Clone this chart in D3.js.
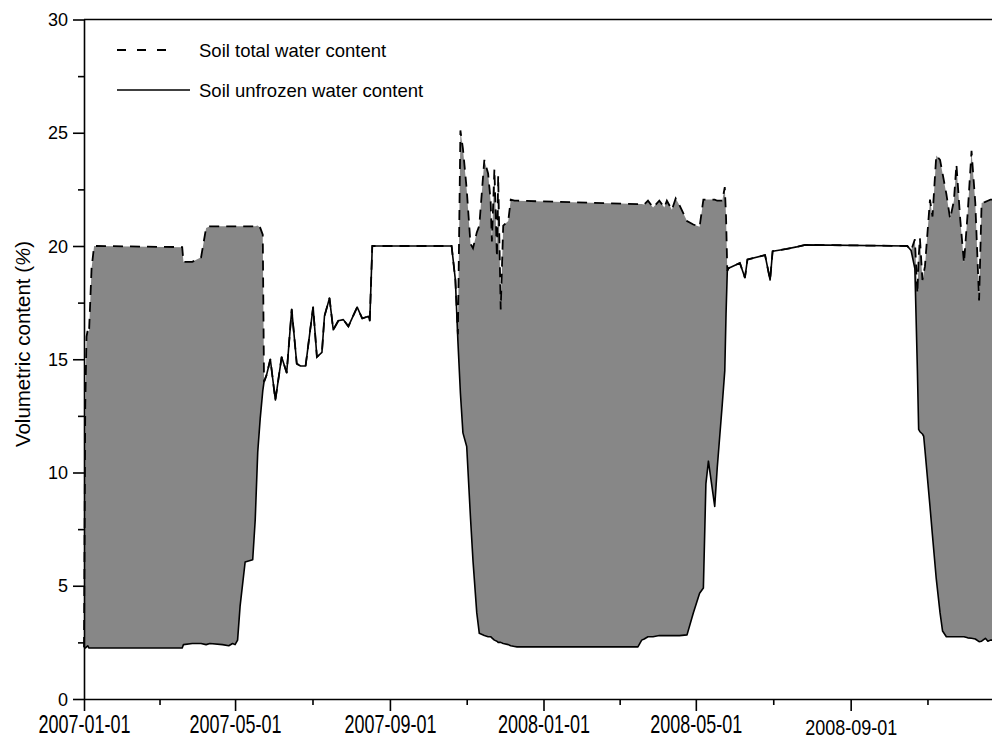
<!DOCTYPE html>
<html>
<head>
<meta charset="utf-8">
<script src="https://cdn.jsdelivr.net/npm/d3@7"></script>
<style>
	html, body { margin: 0; padding: 0; background: #fff; }
	svg { display: block; font-family: "Liberation Sans", Arial, sans-serif; }
</style>
</head>
<body>
<div id="chart"></div>
<script>
"use strict";

// sampling dates
const sampleDates = [
	"2007-01-01", "2007-01-02", "2007-01-03", "2007-01-04", "2007-01-05", "2007-01-07", "2007-01-09", "2007-01-11",
	"2007-03-20", "2007-03-21", "2007-03-28", "2007-04-04", "2007-04-08", "2007-04-11", "2007-04-21", "2007-04-26",
	"2007-04-29", "2007-05-01", "2007-05-03", "2007-05-05", "2007-05-09", "2007-05-15", "2007-05-17", "2007-05-19",
	"2007-05-21", "2007-05-23", "2007-05-24", "2007-05-26", "2007-05-29",
	"2007-06-02", "2007-06-07", "2007-06-11", "2007-06-15", "2007-06-19", "2007-06-22", "2007-06-26", "2007-06-29",
	"2007-07-02", "2007-07-05", "2007-07-09", "2007-07-11", "2007-07-15", "2007-07-18", "2007-07-22", "2007-07-26",
	"2007-07-30", "2007-08-06", "2007-08-10", "2007-08-15", "2007-08-16", "2007-08-18", "2007-09-16", "2007-10-20",
	"2007-10-23", "2007-10-25", "2007-10-27", "2007-10-29", "2007-11-01", "2007-11-04", "2007-11-06", "2007-11-09",
	"2007-11-11", "2007-11-15", "2007-11-18", "2007-11-20", "2007-11-21", "2007-11-23", "2007-11-25", "2007-11-26",
	"2007-11-28", "2007-11-30", "2007-12-04", "2007-12-06", "2007-12-09", "2007-12-11",
	"2008-03-16", "2008-03-19", "2008-03-21", "2008-03-24", "2008-03-28", "2008-04-02", "2008-04-06", "2008-04-08",
	"2008-04-12", "2008-04-15", "2008-04-18", "2008-04-24", "2008-04-29", "2008-05-04", "2008-05-07", "2008-05-09",
	"2008-05-11", "2008-05-16", "2008-05-18", "2008-05-22", "2008-05-24", "2008-05-25", "2008-05-26",
	"2008-05-27", "2008-06-05", "2008-06-09", "2008-06-11", "2008-06-25", "2008-06-29", "2008-07-01", "2008-07-12",
	"2008-07-20", "2008-07-27", "2008-10-16",
	"2008-10-19", "2008-10-22", "2008-10-24", "2008-10-25", "2008-10-26", "2008-10-28", "2008-10-29", "2008-10-30",
	"2008-11-03", "2008-11-05", "2008-11-08", "2008-11-11", "2008-11-13", "2008-11-16", "2008-11-19", "2008-11-22",
	"2008-11-24", "2008-11-27", "2008-11-30", "2008-12-03", "2008-12-06", "2008-12-09", "2008-12-12", "2008-12-14",
	"2008-12-17", "2008-12-19", "2008-12-21", "2008-12-25"
];

// soil total water content (%)
const totalWater = [
	2.3, 13.0, 16.0, 16.3, 16.2, 19.0, 20.0, 20.0,
	19.95, 19.3, 19.3, 19.5, 20.8, 20.87, 20.87, 20.87,
	20.87, 20.87, 20.87, 20.87, 20.87, 20.87, 20.87, 20.9,
	20.8, 20.5, 14.0, 14.3, 15.0,
	13.2, 15.1, 14.4, 17.2, 14.8, 14.7, 14.7, 16.0,
	17.3, 15.1, 15.3, 16.9, 17.7, 16.3, 16.7, 16.75,
	16.45, 17.3, 16.8, 16.9, 16.7, 20.0, 20.0, 20.0,
	18.5, 16.1, 25.1, 24.3, 22.5, 20.1, 19.9, 20.6,
	20.9, 23.8, 23.2, 22.0, 20.2, 23.4, 19.5, 23.1,
	17.2, 20.9, 21.1, 22.05, 22.0, 22.0,
	21.85, 21.85, 21.83, 22.0, 21.7, 22.0, 21.7, 22.0,
	21.6, 22.1, 21.8, 21.1, 20.95, 20.85, 22.05, 22.05,
	22.05, 22.05, 22.0, 22.0, 22.6, 21.3, 18.9,
	19.02, 19.25, 18.6, 19.4, 19.6, 18.5, 19.77, 19.87,
	19.96, 20.05, 20.0,
	19.8, 20.3, 17.9, 19.5, 20.35, 18.5, 18.8, 19.1,
	22.05, 21.3, 24.0, 23.8, 23.2, 22.3, 21.2, 22.0,
	23.6, 21.2, 19.25, 21.5, 24.2, 21.9, 17.6, 21.9,
	21.95, 22.0, 22.05, 22.05
];

// soil unfrozen water content (%)
const unfrozenWater = [
	2.3, 2.25, 2.3, 2.35, 2.25, 2.25, 2.25, 2.25,
	2.25, 2.4, 2.45, 2.45, 2.4, 2.45, 2.4, 2.35,
	2.45, 2.4, 2.6, 4.1, 6.05, 6.15, 7.9, 10.9,
	12.4, 13.6, 14.0, 14.3, 15.0,
	13.2, 15.1, 14.4, 17.2, 14.8, 14.7, 14.7, 16.0,
	17.3, 15.1, 15.3, 16.9, 17.7, 16.3, 16.7, 16.75,
	16.45, 17.3, 16.8, 16.9, 16.7, 20.0, 20.0, 20.0,
	18.5, 15.8, 13.5, 11.75, 11.15, 8.0, 6.1, 3.8,
	2.9, 2.8, 2.75, 2.75, 2.7, 2.6, 2.55, 2.5,
	2.5, 2.45, 2.4, 2.35, 2.32, 2.3,
	2.3, 2.6, 2.65, 2.75, 2.75, 2.8, 2.8, 2.8,
	2.8, 2.8, 2.8, 2.83, 3.8, 4.67, 4.9, 9.5,
	10.5, 8.5, 10.2, 13.0, 14.5, 17.0, 18.9,
	19.02, 19.25, 18.6, 19.4, 19.6, 18.5, 19.77, 19.87,
	19.96, 20.05, 20.0,
	19.8, 19.0, 14.5, 11.9, 11.8, 11.7, 11.6, 11.0,
	8.5, 7.2, 5.3, 3.8, 3.0, 2.75, 2.75, 2.75,
	2.75, 2.75, 2.75, 2.7, 2.68, 2.65, 2.53, 2.55,
	2.68, 2.55, 2.6, 2.6
];

const yTicks = [0, 5, 10, 15, 20, 25, 30];
const xTicks = ["2007-01-01", "2007-05-01", "2007-09-01", "2008-01-01", "2008-05-01", "2008-09-01"];
const seriesNames = ["Soil total water content", "Soil unfrozen water content"];

let width = 992,
    height = 739;

let parseDate = d3.utcParse("%Y-%m-%d");

let rows = sampleDates.map((d, i) => ({
	date: parseDate(d),
	total: totalWater[i],
	unfrozen: unfrozenWater[i]
}));

let x = d3.scaleUtc()
    .domain([parseDate("2007-01-01"), parseDate("2008-12-31")])
    .range([84, 1003]);

let y = d3.scaleLinear()
    .domain([0, 30])
    .range([699, 19.5]);

let svg = d3.select("#chart").append("svg")
    .attr("width", width)
    .attr("height", height);

// grey band between the two curves
let band = d3.area()
    .x(d => x(d.date))
    .y0(d => y(d.unfrozen))
    .y1(d => y(d.total));

svg.append("path")
    .datum(rows)
    .attr("d", band)
    .style("fill", "#878787")
    .style("stroke", "none");

let lineOf = (key) => d3.line()
    .x(d => x(d.date))
    .y(d => y(d[key]));

svg.append("path")
    .datum(rows)
    .attr("d", lineOf("unfrozen"))
    .style("fill", "none")
    .style("stroke", "#000")
    .style("stroke-width", 1.6)
    .style("stroke-linejoin", "round");

svg.append("path")
    .datum(rows)
    .attr("d", lineOf("total"))
    .style("fill", "none")
    .style("stroke", "#000")
    .style("stroke-width", 1.8)
    .style("stroke-dasharray", "10,7");

// top frame
svg.append("line")
    .attr("x1", x.range()[0]).attr("x2", x.range()[1])
    .attr("y1", y(30)).attr("y2", y(30))
    .style("stroke", "#000").style("stroke-width", 1.6);

// y axis, major + minor
let minorY = yTicks.slice(0, -1).map(v => v + 2.5);

svg.append("g")
    .attr("transform", "translate(84,0)")
    .call(d3.axisLeft(y).tickValues(minorY).tickSize(6).tickFormat(""))
    .call(g => g.select(".domain").remove())
    .selectAll("line").style("stroke-width", 1.6);

let yAxis = svg.append("g")
    .attr("transform", "translate(84,0)")
    .call(d3.axisLeft(y).tickValues(yTicks).tickSize(11).tickPadding(5).tickSizeOuter(0).tickFormat(d3.format("d")));

yAxis.selectAll("line, path").style("stroke-width", 1.6);
yAxis.selectAll("text")
    .style("font-size", "18px")
    .style("fill", "#000")
    .attr("dy", "0.34em");

// x axis, major + minor (midway between majors)
let majorDates = xTicks.map(parseDate);
let minorDates = majorDates.map(d => new Date(d.getTime() + (d3.utcMonth.offset(d, 4) - d) / 2));

svg.append("g")
    .attr("transform", "translate(0,699)")
    .call(d3.axisBottom(x).tickValues(minorDates).tickSize(6).tickFormat(""))
    .call(g => g.select(".domain").remove())
    .selectAll("line").style("stroke-width", 1.6);

let xAxis = svg.append("g")
    .attr("transform", "translate(0,699)")
    .call(d3.axisBottom(x).tickValues(majorDates).tickSize(12).tickSizeOuter(0).tickFormat(d3.utcFormat("%Y-%m-%d")));

xAxis.selectAll("line, path").style("stroke-width", 1.6);
// labels are drawn tall in the original; the last one sits a bit lower and flatter
xAxis.selectAll("text")
    .style("font-size", "18px")
    .style("fill", "#000")
    .attr("y", 0)
    .attr("dy", null)
    .attr("transform", (d, i) => i === 5 ? "translate(0,35.5) scale(1,1.2)" : "translate(0,34) scale(1,1.45)");

// y title
let title = svg.append("text")
    .attr("transform", "translate(30,344) rotate(-90)")
    .attr("text-anchor", "middle")
    .style("font-size", "20.5px")
    .style("fill", "#000");
title.append("tspan").text("Volumetric content (");
title.append("tspan").style("font-style", "italic").text("%");
title.append("tspan").text(")");

// legend
let legend = svg.append("g");

legend.append("line")
    .attr("x1", 117).attr("x2", 175)
    .attr("y1", 50).attr("y2", 50)
    .style("stroke", "#000").style("stroke-width", 1.8)
    .style("stroke-dasharray", "9,11");

legend.append("line")
    .attr("x1", 117).attr("x2", 190)
    .attr("y1", 90).attr("y2", 90)
    .style("stroke", "#000").style("stroke-width", 1.6);

legend.selectAll("text.lbl")
    .data(seriesNames)
    .enter().append("text")
    .attr("class", "lbl")
    .attr("x", 199)
    .attr("y", (d, i) => i === 0 ? 56.5 : 96.5)
    .style("font-size", "18.5px")
    .style("fill", "#000")
    .text(d => d);
</script>
</body>
</html>
